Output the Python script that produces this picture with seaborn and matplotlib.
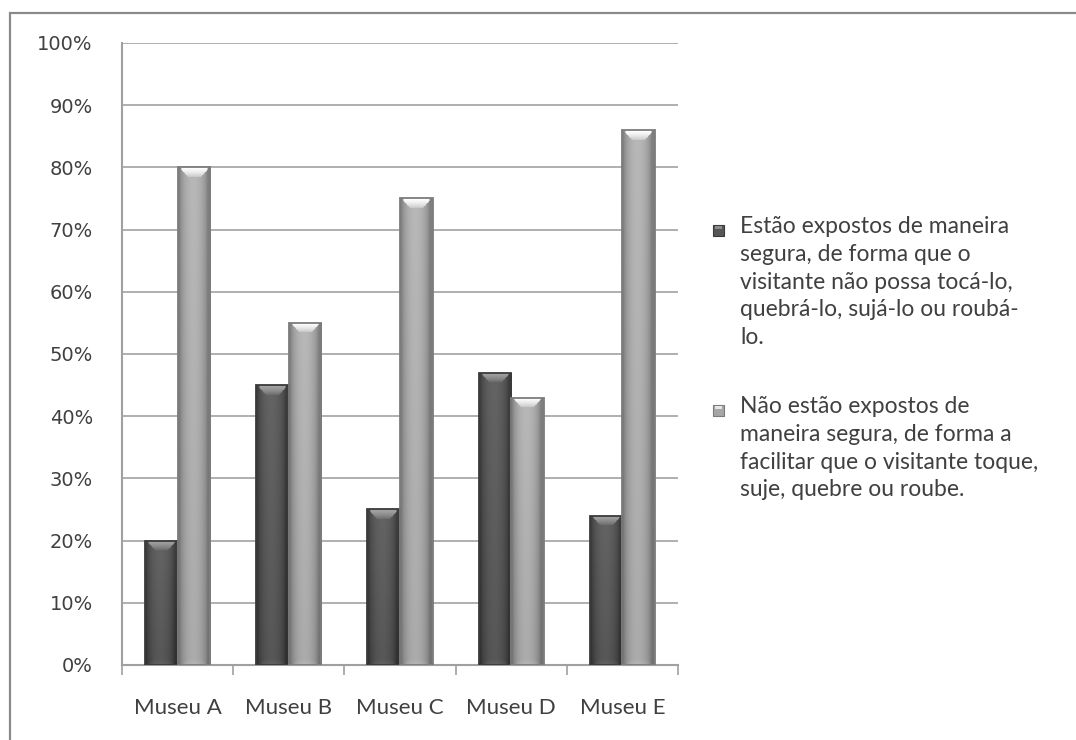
import numpy as np
import pandas as pd
import matplotlib
matplotlib.use("Agg")
import matplotlib.pyplot as plt
from matplotlib.patches import Rectangle
import seaborn as sns

# --- data -------------------------------------------------------------
museus = ["Museu A", "Museu B", "Museu C", "Museu D", "Museu E"]
seguros = [20, 45, 25, 47, 24]
nao_seguros = [80, 55, 75, 43, 86]
series = [
    "Estão expostos de maneira\nsegura, de forma que o\nvisitante não possa tocá-lo,\nquebrá-lo, sujá-lo ou roubá-\nlo.",
    "Não estão expostos de\nmaneira segura, de forma a\nfacilitar que o visitante toque,\nsuje, quebre ou roube.",
]
y_ticks = [0, 10, 20, 30, 40, 50, 60, 70, 80, 90, 100]

df = pd.DataFrame({
    "museu": museus * 2,
    "valor": seguros + nao_seguros,
    "serie": [series[0]] * len(museus) + [series[1]] * len(museus),
})

base_colors = ["#565656", "#a6a6a6"]
edge_colors = ["#3a3a3a", "#7c7c7c"]

sns.set_theme(style="white")
plt.rcParams["font.family"] = ["DejaVu Sans"]

fig = plt.figure(figsize=(10.76, 7.40), dpi=100)
ax = fig.add_axes([0.1134, 0.1014, 0.5167, 0.8405])

sns.barplot(data=df, x="museu", y="valor", hue="serie", palette=base_colors,
            width=0.585, gap=0, legend=False, ax=ax, saturation=1,
            edgecolor="none", linewidth=0, errorbar=None)

ax.set_xlim(-0.5, 4.5)
ax.set_ylim(0, 100)


def bar_image(h_px, dark):
    """Bevelled shading for a single bar, as an RGB array (row 0 = top)."""
    nx = 48
    ny = max(int(h_px), 4)
    x = np.linspace(0, 1, nx)
    bump = np.sin(np.pi * np.clip((x - 0.04) / 0.86, 0, 1)) ** 0.6
    if dark:
        prof = 0.24 + 0.15 * bump
        top_hi, top_lo = 0.64, 0.40
    else:
        prof = 0.50 + 0.22 * bump
        top_hi, top_lo = 1.0, 0.76
    img = np.tile(prof, (ny, 1))
    yy = np.linspace(0, 1, ny)[:, None]
    img = img - 0.05 * yy
    # bevel highlight at the top of the bar
    band = 10
    for r in range(min(band, ny)):
        f = r / band
        d = 0.08 + 0.24 * f ** 1.4
        mask = (x > d) & (x < 1 - d)
        img[r, mask] = top_hi + (top_lo - top_hi) * f ** 1.5
    # faint bevel at the bottom
    for r in range(min(6, ny)):
        f = r / 6
        d = 0.10 + 0.2 * f
        mask = (x > d) & (x < 1 - d)
        img[ny - 1 - r, mask] += 0.04 * (1 - f)
    img = np.clip(img, 0, 1)
    return np.dstack([img, img, img])


px_per_unit = 0.8405 * 740 / 100.0
for i, cont in enumerate(ax.containers):
    for p in cont.patches:
        x0, y0 = p.get_x(), p.get_y()
        w, h = p.get_width(), p.get_height()
        im = ax.imshow(bar_image(h * px_per_unit, i == 0), origin="upper",
                       extent=(x0, x0 + w, y0, y0 + h),
                       aspect="auto", interpolation="bilinear", zorder=3)
        im.set_clip_path(p)
        ax.add_patch(Rectangle((x0, y0), w, h, fill=False, edgecolor=edge_colors[i],
                               linewidth=1.3, zorder=4))

ax.set_xlim(-0.5, 4.5)
ax.set_ylim(0, 100)

# gridlines and axes
ax.set_axisbelow(True)
ax.grid(axis="y", color="#a9a9a9", linewidth=1.3)
ax.grid(axis="x", visible=False)
for s in ["top", "right"]:
    ax.spines[s].set_visible(False)
for s in ["left", "bottom"]:
    ax.spines[s].set_color("#a0a0a0")
    ax.spines[s].set_linewidth(1.5)

ax.set_yticks(y_ticks)
ax.set_yticklabels([f"{v}%" for v in y_ticks], fontsize=14, color="#404040",
                   family="DejaVu Sans")
ax.tick_params(axis="y", direction="out", length=7, width=1.2, color="#a0a0a0", pad=14)

ax.set_xticks(range(len(museus)))
ax.set_xticklabels(museus, fontsize=16, color="#404040", family="Lato")
ax.set_xticks(np.arange(-0.5, len(museus), 1), minor=True)
ax.tick_params(axis="x", which="major", length=0, pad=24)
ax.tick_params(axis="x", which="minor", direction="out", length=7, width=1.2,
               color="#a0a0a0", bottom=True)
ax.set_xlabel("")
ax.set_ylabel("")

# legend on the right: small bevelled squares with wrapped labels
W, H = 1076.0, 740.0
legend_rows = [230, 410]
hi_colors = ["#8c8c8c", "#e6e6e6"]
for i, (lbl, yc) in enumerate(zip(series, legend_rows)):
    ms = 11
    fig.patches.append(Rectangle((713 / W, 1 - (yc + ms / 2) / H), ms / W, ms / H,
                                 transform=fig.transFigure, facecolor=base_colors[i],
                                 edgecolor=edge_colors[i], linewidth=0.8))
    fig.patches.append(Rectangle((715 / W, 1 - (yc - ms / 2 + 4) / H), (ms - 4) / W, 2.5 / H,
                                 transform=fig.transFigure, facecolor=hi_colors[i],
                                 edgecolor="none"))
    fig.text(740 / W, 1 - (yc - 14) / H, lbl, fontsize=16.5, family="Lato",
             color="#404040", va="top", ha="left", linespacing=1.4)

# outer chart border
fig.patches.append(Rectangle((10 / W, -0.2), 1.5, 0.2 + 1 - 13 / H,
                             transform=fig.transFigure, fill=False,
                             edgecolor="#8a8a8a", linewidth=1.6))

fig.savefig("out.png", dpi=100, facecolor="white")
